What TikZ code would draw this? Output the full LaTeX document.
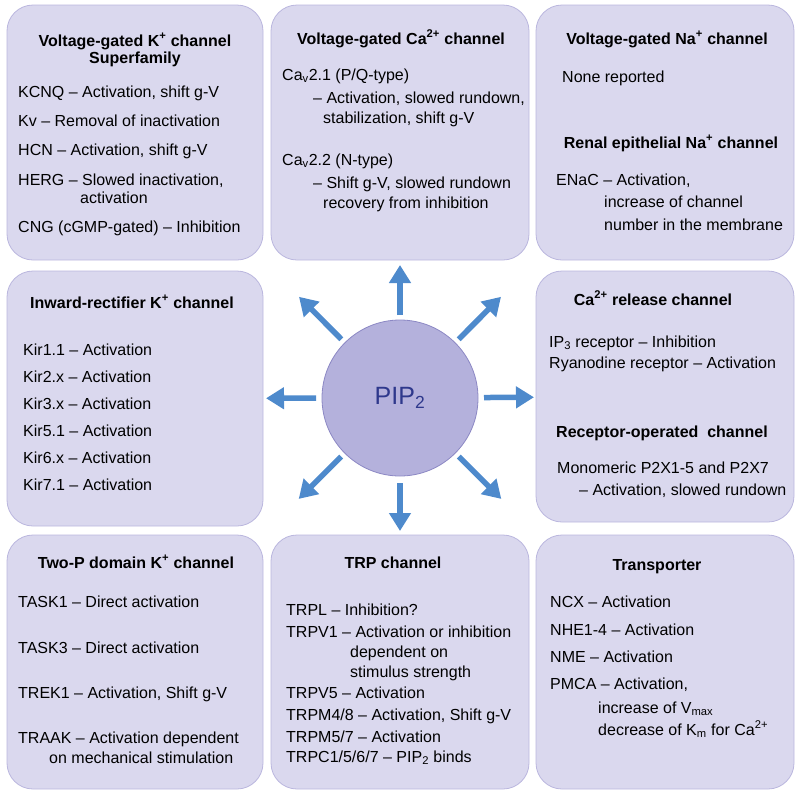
\documentclass[tikz,border=0pt]{standalone}
\usepackage{fontspec}
\setmainfont{Liberation Sans}
\usepackage{xcolor}
\usepackage{tikz}
\usetikzlibrary{arrows.meta, positioning, calc}

\definecolor{boxfill}{RGB}{218,216,238}
\definecolor{boxline}{RGB}{186,182,222}
\definecolor{pipfill}{RGB}{180,177,220}
\definecolor{pipline}{RGB}{140,136,196}
\definecolor{piptext}{RGB}{46,56,140}
\definecolor{arrowblue}{RGB}{78,138,204}

\begin{document}
\begin{tikzpicture}[
        x=1pt, y=-1pt,
        chbox/.style={rectangle, draw=boxline, line width=0.8pt, fill=boxfill, rounded corners=26pt, minimum width=258pt, minimum height=255pt, inner sep=0pt},
        head/.style={anchor=base, font=\fontsize{16}{17}\selectfont\bfseries, align=center, inner sep=0pt},
        body/.style={anchor=base west, font=\fontsize{16}{20}\selectfont, align=left, inner sep=0pt},
        arrow/.style={-{Triangle[width=21pt, length=18pt]}, line width=5.5pt, draw=arrowblue}
    ]

    \useasboundingbox (0,0) rectangle (800,796);

    % Boxes
    \node[chbox, minimum width=256pt] (vgk) at (135,132.5) {};
    \node[chbox] (vgca) at (400,132.5) {};
    \node[chbox] (vgna) at (665,132.5) {};
    \node[chbox, minimum width=256pt] (kir) at (135,398.5) {};
    \node[chbox, minimum height=251pt] (carel) at (665,396.5) {};
    \node[chbox, minimum width=256pt, minimum height=254pt] (k2p) at (135,662) {};
    \node[chbox, minimum height=254pt] (trp) at (400,662) {};
    \node[chbox, minimum height=254pt] (trans) at (665,662) {};

    % Centre
    \node[circle, draw=pipline, line width=0.8pt, fill=pipfill, minimum size=156pt, inner sep=0pt, text=piptext, font=\fontsize{25}{30}\selectfont] (pip) at (400,398) {PIP\textsubscript{2}};

    % Voltage-gated K+ (multi-line nodes sit on their last baseline)
    \node[head] (vgk-head) at (135,63) {Voltage-gated K\textsuperscript{+} channel\\Superfamily};
    \node[body] (vgk-list) at (18,232) {KCNQ -- Activation, shift g-V\\[9pt]
        Kv -- Removal of inactivation\\[9pt]
        HCN -- Activation, shift g-V\\[10pt]
        HERG -- Slowed inactivation,\\[-2pt]
        \hspace*{62pt}activation\\[9pt]
        CNG (cGMP-gated) -- Inhibition};

    % Voltage-gated Ca2+
    \node[head] (vgca-head) at (401,44) {Voltage-gated Ca\textsuperscript{2+} channel};
    \node[body] (vgca-list) at (282,208) {Ca\textsubscript{v}2.1 (P/Q-type)\\[3pt]
        \hspace*{31pt}-- Activation, slowed rundown,\\
        \hspace*{41pt}stabilization, shift g-V\\[22pt]
        Ca\textsubscript{v}2.2 (N-type)\\[3pt]
        \hspace*{31pt}-- Shift g-V, slowed rundown\\
        \hspace*{41pt}recovery from inhibition};

    % Na+ channels
    \node[head] (vgna-head) at (667,44) {Voltage-gated Na\textsuperscript{+} channel};
    \node[body] (vgna-list) at (562,82) {None reported};
    \node[head] (enac-head) at (671,148) {Renal epithelial Na\textsuperscript{+} channel};
    \node[body] (enac-list) at (556,230) {ENaC -- Activation,\\[2pt]
        \hspace*{48pt}increase of channel\\[3pt]
        \hspace*{48pt}number in the membrane};

    % Inward rectifier
    \node[head] (kir-head) at (132,308) {Inward-rectifier K\textsuperscript{+} channel};
    \node[body] (kir-list) at (23,490) {Kir1.1 -- Activation\\[7pt]
        Kir2.x -- Activation\\[7pt]
        Kir3.x -- Activation\\[7pt]
        Kir5.1 -- Activation\\[7pt]
        Kir6.x -- Activation\\[7pt]
        Kir7.1 -- Activation};

    % Ca2+ release / receptor-operated
    \node[head] (carel-head) at (653,305) {Ca\textsuperscript{2+} release channel};
    \node[body] (carel-list) at (549,368) {IP\textsubscript{3} receptor -- Inhibition\\[1pt]
        Ryanodine receptor -- Activation};
    \node[head] (roc-head) at (662,437) {Receptor-operated\ \ channel};
    \node[body] (roc-list) at (557,495) {Monomeric P2X1-5 and P2X7\\[2pt]
        \hspace*{22pt}-- Activation, slowed rundown};

    % Two-P domain
    \node[head] (k2p-head) at (136,568) {Two-P domain K\textsuperscript{+} channel};
    \node[body] (k2p-list) at (18,763) {TASK1 -- Direct activation\\[26pt]
        TASK3 -- Direct activation\\[25pt]
        TREK1 -- Activation, Shift g-V\\[25pt]
        TRAAK -- Activation dependent\\
        \hspace*{31pt}on mechanical stimulation};

    % TRP
    \node[head] (trp-head) at (393,568) {TRP channel};
    \node[body] (trp-list) at (286,762) {TRPL -- Inhibition?\\[2pt]
        TRPV1 -- Activation or inhibition\\
        \hspace*{64pt}dependent on\\
        \hspace*{64pt}stimulus strength\\[1pt]
        TRPV5 -- Activation\\[2pt]
        TRPM4/8 -- Activation, Shift g-V\\[2pt]
        TRPM5/7 -- Activation\\
        TRPC1/5/6/7 -- PIP\textsubscript{2} binds};

    % Transporter
    \node[head] (trans-head) at (657,570) {Transporter};
    \node[body] (trans-list) at (550,735) {NCX -- Activation\\[8pt]
        NHE1-4 -- Activation\\[7pt]
        NME -- Activation\\[7pt]
        PMCA -- Activation,\\[4pt]
        \hspace*{48pt}increase of V\textsubscript{max}\\[2pt]
        \hspace*{48pt}decrease of K\textsubscript{m} for Ca\textsuperscript{2+}};

    % Arrows
    \draw[arrow] ($(pip)!83pt!(vgca)$) -- ($(pip)!133pt!(vgca)$);
    \draw[arrow] ($(pip)!84pt!(kir)$) -- ($(pip)!134pt!(kir)$);
    \draw[arrow] ($(pip)!84pt!(carel)$) -- ($(pip)!134pt!(carel)$);
    \draw[arrow] ($(pip)!85pt!(trp)$) -- ($(pip)!133pt!(trp)$);
    \draw[arrow] ($(pip)!83pt!(vgk)$) -- ($(pip)!143pt!(vgk)$);
    \draw[arrow] ($(pip)!83pt!(vgna)$) -- ($(pip)!143pt!(vgna)$);
    \draw[arrow] ($(pip)!83pt!(k2p)$) -- ($(pip)!143pt!(k2p)$);
    \draw[arrow] ($(pip)!83pt!(trans)$) -- ($(pip)!143pt!(trans)$);

\end{tikzpicture}
\end{document}
